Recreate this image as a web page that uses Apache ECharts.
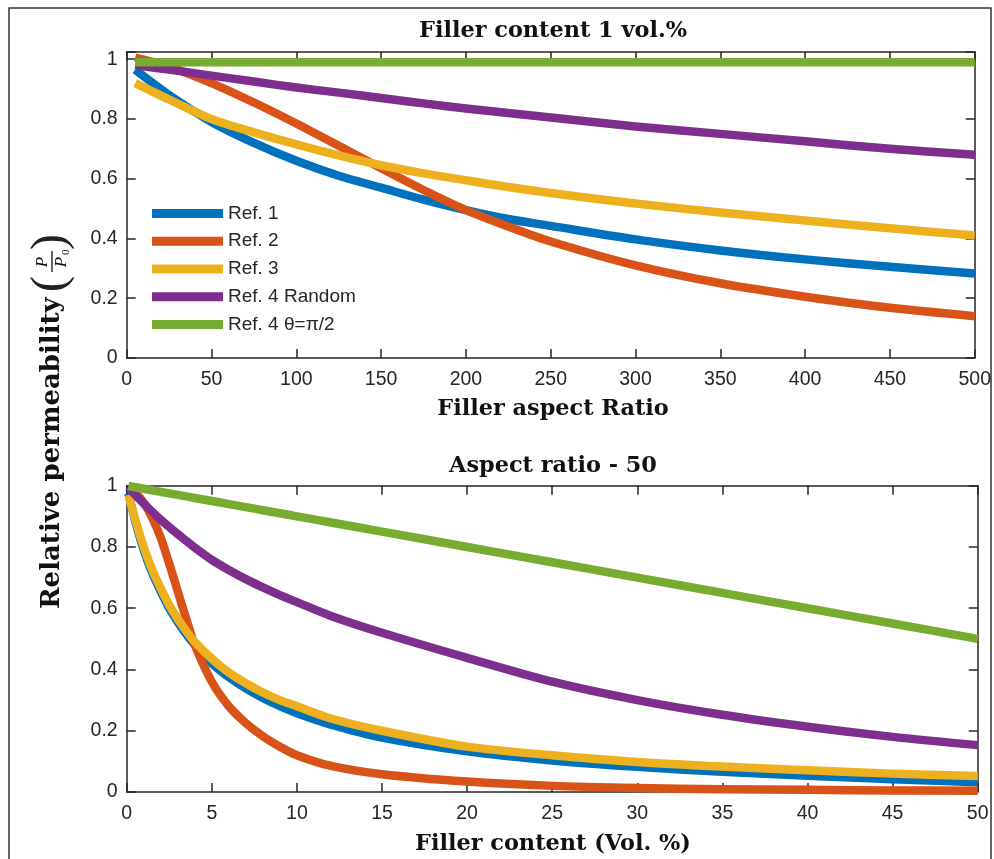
<!DOCTYPE html>
<html>
<head>
<meta charset="utf-8">
<script src="https://cdn.jsdelivr.net/npm/echarts@6/dist/echarts.min.js"></script>
<style>
html,body{margin:0;padding:0;background:#fff;}
#chart{width:994px;height:859px;}
</style>
</head>
<body>
<div id="chart"></div>
<script>
// ---------- data ----------
const seriesNames = ['Ref. 1', 'Ref. 2', 'Ref. 3', 'Ref. 4 Random', 'Ref. 4 θ=π/2'];

// Top panel: Filler content 1 vol.%
const aspectRatio = [5, 25, 50, 75, 100, 125, 150, 175, 200, 225, 250, 300, 350, 400, 450, 500];
const topRef1   = [0.965, 0.88, 0.79, 0.72, 0.66, 0.61, 0.57, 0.53, 0.495, 0.465, 0.442, 0.397, 0.36, 0.33, 0.305, 0.283];
const topRef2   = [1.005, 0.975, 0.92, 0.855, 0.785, 0.71, 0.635, 0.562, 0.495, 0.44, 0.39, 0.31, 0.25, 0.205, 0.168, 0.14];
const topRef3   = [0.92, 0.865, 0.80, 0.755, 0.715, 0.678, 0.645, 0.618, 0.595, 0.572, 0.552, 0.517, 0.487, 0.46, 0.434, 0.41];
const topRef4R  = [0.98, 0.965, 0.945, 0.925, 0.905, 0.888, 0.87, 0.852, 0.835, 0.82, 0.805, 0.775, 0.75, 0.725, 0.70, 0.68];
const topRef4P  = [0.99, 0.99, 0.99, 0.99, 0.99, 0.99, 0.99, 0.99, 0.99, 0.99, 0.99, 0.99, 0.99, 0.99, 0.99, 0.99];

// Bottom panel: Aspect ratio - 50
const fillerContent = [0.1, 0.5, 1, 1.5, 2, 2.5, 3, 3.5, 4, 5, 6, 7, 8, 9, 10, 12, 15, 20, 25, 30, 35, 40, 45, 50];
const botRef1  = [0.975, 0.885, 0.79, 0.715, 0.655, 0.60, 0.555, 0.515, 0.48, 0.42, 0.375, 0.338, 0.307, 0.28, 0.257, 0.22, 0.178, 0.133, 0.103, 0.082, 0.066, 0.053, 0.042, 0.032];
const botRef2  = [0.995, 0.978, 0.945, 0.895, 0.83, 0.745, 0.655, 0.565, 0.48, 0.36, 0.28, 0.225, 0.182, 0.148, 0.12, 0.085, 0.058, 0.034, 0.02, 0.013, 0.009, 0.007, 0.005, 0.004];
const botRef3  = [0.97, 0.89, 0.80, 0.725, 0.665, 0.61, 0.565, 0.525, 0.49, 0.435, 0.39, 0.355, 0.325, 0.30, 0.28, 0.24, 0.20, 0.148, 0.12, 0.098, 0.083, 0.071, 0.06, 0.052];
const botRef4R = [0.995, 0.97, 0.942, 0.915, 0.889, 0.865, 0.842, 0.82, 0.798, 0.758, 0.725, 0.695, 0.668, 0.643, 0.62, 0.575, 0.52, 0.438, 0.36, 0.30, 0.252, 0.213, 0.18, 0.153];
const botRef4P = [0.999, 0.995, 0.99, 0.985, 0.98, 0.975, 0.97, 0.965, 0.96, 0.95, 0.94, 0.93, 0.92, 0.91, 0.90, 0.88, 0.85, 0.80, 0.75, 0.70, 0.65, 0.60, 0.55, 0.50];

// axis ranges / tick steps
const topX = {min: 0, max: 500, step: 50};
const botX = {min: 0, max: 50, step: 5};
const topY = {min: 0, max: 1.025, step: 0.2};
const botY = {min: 0, max: 1.0, step: 0.2};

const titles = ['Filler content 1 vol.%', 'Aspect ratio - 50'];
const xNames = ['Filler aspect Ratio', 'Filler content (Vol. %)'];
const yName = 'Relative permeability';

// ---------- styling ----------
const colors = ['#0072BD', '#D95319', '#EDB120', '#7E2F8E', '#77AC30'];
const axisCol = '#262626';
const tickFont = 'Liberation Sans, Arial, sans-serif';
const serifFont = '"DejaVu Serif", serif';

function zip(xs, ys) { return xs.map((x, i) => [x, ys[i]]); }

const topSets = [topRef1, topRef2, topRef3, topRef4R, topRef4P];
const botSets = [botRef1, botRef2, botRef3, botRef4R, botRef4P];

function lineSeries(name, data, idx, axisIdx) {
  return {
    type: 'line', name: name, data: data,
    xAxisIndex: axisIdx, yAxisIndex: axisIdx,
    showSymbol: false, symbol: 'none',
    smooth: 0.3,
    clip: false, silent: true,
    lineStyle: {color: colors[idx], width: 8.5, cap: 'butt', join: 'round'},
    itemStyle: {color: colors[idx]},
    z: 2 + idx
  };
}

const series = [];
seriesNames.forEach((n, i) => series.push(lineSeries(n, zip(aspectRatio, topSets[i]), i, 0)));
seriesNames.forEach((n, i) => series.push(lineSeries(n, zip(fillerContent, botSets[i]), i, 2)));

const grids = [
  {left: 126.7, top: 51.7, width: 851, height: 306.3},
  {left: 126.7, top: 485.7, width: 851, height: 306.3}
];

function fmtY(v) {
  const r = Math.round(v * 5) / 5;
  if (Math.abs(v - r) > 1e-6) return '';
  return String(+r.toFixed(1));
}

function xAxis(grid, rng, pos, showLabel) {
  return {
    type: 'value', gridIndex: grid, position: pos,
    min: rng.min, max: rng.max, interval: rng.step,
    axisLine: {show: true, onZero: false, lineStyle: {color: axisCol, width: 1.5}},
    axisTick: {show: true, inside: true, length: 9, lineStyle: {color: axisCol, width: 1.5}},
    axisLabel: {show: showLabel, color: axisCol, fontFamily: tickFont, fontSize: 19.5, margin: 12},
    splitLine: {show: false}
  };
}
function yAxis(grid, rng, pos, showLabel) {
  return {
    type: 'value', gridIndex: grid, position: pos,
    min: rng.min, max: rng.max, interval: rng.step,
    axisLine: {show: true, onZero: false, lineStyle: {color: axisCol, width: 1.5}},
    axisTick: {show: true, inside: true, length: 9, lineStyle: {color: axisCol, width: 1.5}},
    axisLabel: {show: showLabel, color: axisCol, fontFamily: tickFont, fontSize: 19.5, margin: 9, formatter: fmtY},
    splitLine: {show: false}
  };
}

const chart = echarts.init(document.getElementById('chart'), null, {renderer: 'canvas'});

const cx = 553;
const titleFont = 'bold 22.4px ' + serifFont;
const graphic = [
  {type: 'rect', shape: {x: 9, y: 8, width: 982, height: 900}, style: {fill: 'none', stroke: '#333', lineWidth: 1.5}, z: 0, silent: true},
  {type: 'text', x: cx, y: 31, style: {text: titles[0], font: titleFont, fill: '#111', align: 'center', verticalAlign: 'middle'}},
  {type: 'text', x: cx, y: 466, style: {text: titles[1], font: titleFont, fill: '#111', align: 'center', verticalAlign: 'middle'}},
  {type: 'text', x: cx, y: 409, style: {text: xNames[0], font: titleFont, fill: '#111', align: 'center', verticalAlign: 'middle'}},
  {type: 'text', x: cx, y: 844, style: {text: xNames[1], font: titleFont, fill: '#111', align: 'center', verticalAlign: 'middle'}},
  {
    type: 'group', x: 52, y: 423, rotation: Math.PI / 2,
    children: [
      {type: 'text', x: -186, y: 0, style: {text: yName, font: 'bold 26px ' + serifFont, fill: '#111', align: 'left', verticalAlign: 'middle'}},
      {type: 'text', x: 139, y: -1, style: {text: '(', font: '48px "Liberation Serif", serif', fill: '#222', align: 'center', verticalAlign: 'middle'}},
      {type: 'text', x: 161, y: -9, style: {text: 'P', font: 'italic 17px "Liberation Serif", serif', fill: '#111', align: 'center', verticalAlign: 'middle'}},
      {type: 'line', shape: {x1: 151, y1: 0, x2: 172, y2: 0}, style: {stroke: '#111', lineWidth: 1.3}},
      {type: 'text', x: 161, y: 10, style: {text: 'P', font: 'italic 17px "Liberation Serif", serif', fill: '#111', align: 'center', verticalAlign: 'middle'}},
      {type: 'text', x: 168, y: 14, style: {text: '0', font: '11px "Liberation Serif", serif', fill: '#111', align: 'left', verticalAlign: 'middle'}},
      {type: 'text', x: 181, y: -1, style: {text: ')', font: '48px "Liberation Serif", serif', fill: '#222', align: 'center', verticalAlign: 'middle'}}
    ]
  }
];

chart.setOption({
  animation: false,
  backgroundColor: '#fff',
  grid: grids,
  xAxis: [
    xAxis(0, topX, 'bottom', true), xAxis(0, topX, 'top', false),
    xAxis(1, botX, 'bottom', true), xAxis(1, botX, 'top', false)
  ],
  yAxis: [
    yAxis(0, topY, 'left', true), yAxis(0, topY, 'right', false),
    yAxis(1, botY, 'left', true), yAxis(1, botY, 'right', false)
  ],
  legend: {
    data: seriesNames, orient: 'vertical', left: 152, top: 204, padding: 0,
    icon: 'rect', itemWidth: 71, itemHeight: 9, itemGap: 8.75,
    textStyle: {color: '#262626', fontFamily: tickFont, fontSize: 19, lineHeight: 19},
    selectedMode: false
  },
  series: series,
  graphic: graphic
});
</script>
</body>
</html>
